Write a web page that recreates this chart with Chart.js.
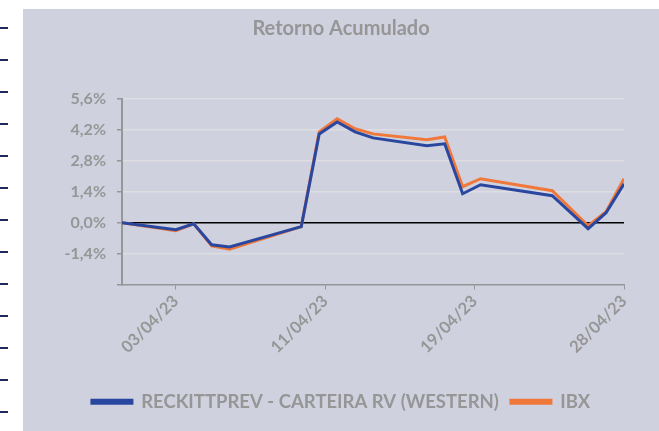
<!DOCTYPE html>
<html>
<head>
<meta charset="utf-8">
<script src="https://cdn.jsdelivr.net/npm/chart.js@4/dist/chart.umd.min.js"></script>
<style>
  html, body { margin: 0; padding: 0; background: #fff; }
  body { width: 659px; height: 431px; position: relative; overflow: hidden; }
  #panel { position: absolute; left: 23px; top: 9px; width: 636px; height: 422px; background: #CFD1DF; }
  #marks { position: absolute; left: 0; top: 0; }
  .mark { position: absolute; left: 0; width: 8px; height: 2px; background: #1E2A5C; }
</style>
</head>
<body>
<div id="marks"></div>
<div id="panel"><canvas id="chart" width="636" height="422"></canvas></div>
<script>
// data (% accumulated return)
const dates = ["31/03/23", "03/04/23", "04/04/23", "05/04/23", "06/04/23", "10/04/23", "11/04/23",
  "12/04/23", "13/04/23", "14/04/23", "17/04/23", "18/04/23", "19/04/23", "20/04/23",
  "24/04/23", "26/04/23", "27/04/23", "28/04/23"];
const carteira = [0, -0.32, -0.05, -1.0, -1.1, -0.18, 4.02, 4.56, 4.11, 3.84, 3.48, 3.57, 1.31, 1.72, 1.22, -0.27, 0.45, 1.76];
const ibx = [0, -0.36, -0.05, -1.05, -1.2, -0.18, 4.11, 4.70, 4.25, 4.02, 3.75, 3.88, 1.63, 1.99, 1.45, -0.14, 0.50, 1.99];
const tickLabels = ["03/04/23", "11/04/23", "19/04/23", "28/04/23"];
const yTicks = [-2.8, -1.4, 0, 1.4, 2.8, 4.2, 5.6];

// little marks on the white strip at the left
const marks = document.getElementById("marks");
for (let i = 0; i < 13; i++) {
  const m = document.createElement("div");
  m.className = "mark";
  m.style.top = (27 + i * 32) + "px";
  marks.appendChild(m);
}

function dayNum(s) {
  const [d, m, y] = s.split("/").map(Number);
  return Date.UTC(2000 + y, m - 1, d) / 86400000;
}
const day0 = dayNum(dates[0]);
const toX = (s) => dayNum(s) - day0;

const firstTick = toX(tickLabels[0]);
const lastTick = toX(tickLabels[tickLabels.length - 1]);
const tickPos = tickLabels.map((_, i) => firstTick + (lastTick - firstTick) * i / (tickLabels.length - 1));

const gray = "#969696";
const font = (size) => ({ family: "Lato, 'Open Sans', sans-serif", size: size, weight: "bold" });

new Chart(document.getElementById("chart"), {
  type: "line",
  data: {
    datasets: [
      {
        label: "RECKITTPREV - CARTEIRA RV (WESTERN)",
        data: dates.map((d, i) => ({ x: toX(d), y: carteira[i] })),
        borderColor: "#2A47A0",
        backgroundColor: "#2A47A0",
        borderWidth: 3,
        pointRadius: 0,
        tension: 0
      },
      {
        label: "IBX",
        data: dates.map((d, i) => ({ x: toX(d), y: ibx[i] })),
        borderColor: "#F0783A",
        backgroundColor: "#F0783A",
        borderWidth: 3,
        pointRadius: 0,
        tension: 0
      }
    ]
  },
  options: {
    responsive: false,
    animation: false,
    layout: { padding: { left: 0, right: 0, top: 0, bottom: 10 } },
    plugins: {
      title: {
        display: true,
        text: "Retorno Acumulado",
        color: gray,
        font: font(20),
        padding: { top: 8, bottom: 58 }
      },
      legend: {
        position: "bottom",
        labels: {
          color: gray,
          font: font(18.5),
          boxWidth: 40,
          boxHeight: 3,
          padding: 12
        }
      },
      tooltip: { enabled: false }
    },
    scales: {
      x: {
        type: "linear",
        min: 0,
        max: lastTick,
        afterFit: (s) => { s.height = 96; },
        afterBuildTicks: (s) => { s.ticks = tickPos.map((v) => ({ value: v })); },
        border: { color: gray, width: 1.5 },
        grid: { drawOnChartArea: false, tickColor: gray, tickLength: 5 },
        ticks: {
          color: gray,
          font: font(16.5),
          minRotation: 45,
          maxRotation: 45,
          padding: 2,
          callback: (v, i) => tickLabels[i]
        }
      },
      y: {
        min: -2.8,
        max: 5.6,
        afterFit: (s) => { s.width = 99; },
        afterBuildTicks: (s) => { s.ticks = yTicks.map((v) => ({ value: v })); },
        border: { color: gray, width: 2 },
        grid: {
          color: (c) => c.tick.value === 0 ? "#000" : (c.tick.value === -2.8 ? "rgba(0,0,0,0)" : "#DDDDE2"),
          lineWidth: 1.5,
          tickColor: gray,
          tickLength: 5
        },
        ticks: {
          color: gray,
          font: font(16),
          padding: 11,
          callback: (v) => v === -2.8 ? "" : v.toFixed(1).replace(".", ",") + "%"
        }
      },
      // empty axis on the right, only keeps the plot clear of the panel edge
      right: {
        position: "right",
        min: 0,
        max: 1,
        afterFit: (s) => { s.width = 35; },
        border: { display: false },
        grid: { display: false },
        ticks: { display: false }
      }
    }
  }
});
</script>
</body>
</html>
